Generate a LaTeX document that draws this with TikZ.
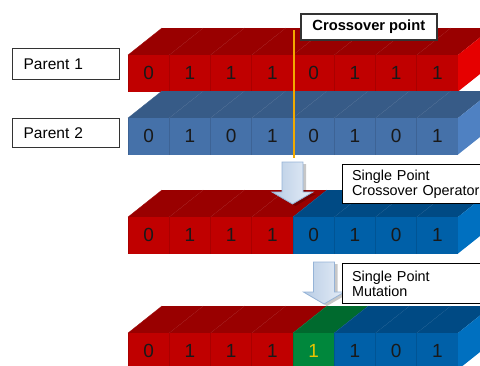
\documentclass[tikz,border=0pt]{standalone}
\usepackage{fontspec}
\setmainfont{Liberation Sans}
\usetikzlibrary{positioning}
\definecolor{RedF}{HTML}{C00000}
\definecolor{RedT}{HTML}{990000}
\definecolor{RedS}{HTML}{E60000}
\definecolor{PblF}{HTML}{4571A9}
\definecolor{PblT}{HTML}{375B87}
\definecolor{PblS}{HTML}{4F81C2}
\definecolor{OblF}{HTML}{0060A8}
\definecolor{OblT}{HTML}{004A84}
\definecolor{OblS}{HTML}{0070C0}
\definecolor{GrnF}{HTML}{00873C}
\definecolor{GrnT}{HTML}{006A2E}
\definecolor{Mark}{HTML}{F2A900}
\definecolor{Gold}{HTML}{E8C400}
\definecolor{ArrowL}{HTML}{B8CCE4}
\definecolor{ArrowR}{HTML}{E6EEF8}
\definecolor{ArrowLine}{HTML}{95B3D7}

% one chromosome: top y, row name, colour of right side, list bit/colour
\newcommand{\chromosome}[4]{%
  \foreach \bitv/\hue [count=\i from 0] in {#4} {
    \pgfmathsetmacro{\xl}{128+41.25*\i}
    \fill[fill=\hue T] (\xl,#1) -- ++(34,-27) -- ++(41.25,0) -- ++(-34,27) -- cycle;
    \draw[draw=\hue T!93!white, line width=0.4pt] (\xl,#1) -- ++(34,-27);
    \fill[fill=\hue F] (\xl,#1) rectangle ++(41.25,36.5);
    \draw[draw=\hue F!88!black, line width=0.6pt] (\xl,#1) -- ++(0,36.5);
    \node[digit] (#2-\i) at (\xl+20.6,#1+18.3) {\bitv};
  }
  \fill[fill=#3S] (458,#1) -- ++(34,-27) -- ++(0,36.5) -- ++(-34,27) -- cycle;
}
% block arrow pointing down: centre x, top y
\newcommand{\blockarrow}[2]{%
  \fill[black, opacity=0.22, xshift=3pt, yshift=-2pt]
    (#1-10.5,#2) -- (#1+10.5,#2) -- (#1+10.5,#2+30) -- (#1+20.5,#2+30)
    -- (#1,#2+42) -- (#1-20.5,#2+30) -- (#1-10.5,#2+30) -- cycle;
  \draw[blockarr]
    (#1-10.5,#2) -- (#1+10.5,#2) -- (#1+10.5,#2+30) -- (#1+20.5,#2+30)
    -- (#1,#2+42) -- (#1-20.5,#2+30) -- (#1-10.5,#2+30) -- cycle;
}

\begin{document}
\begin{tikzpicture}[x=1pt, y=-1pt,
    digit/.style={font=\fontsize{19}{20}\selectfont, text=black!90, inner sep=0pt},
    lbl/.style={draw=black!80, line width=1.3pt, fill=white, inner ysep=0pt,
                font=\fontsize{15.5}{18}\selectfont},
    note/.style={draw=black, line width=1.2pt, fill=white, inner ysep=0pt, inner xsep=9.5pt,
                 text width=160pt, align=left, minimum height=39pt,
                 font=\fontsize{14.4}{15}\selectfont},
    cutline/.style={Mark, line width=1.3pt},
    blockarr/.style={left color=ArrowL, right color=ArrowR, draw=ArrowLine, line width=0.8pt}]

  \useasboundingbox (0,0) rectangle (480,365);
  \clip (0,0) rectangle (480,365);

  % parents
  \chromosome{55}{pa}{Red}{0/Red,1/Red,1/Red,1/Red,0/Red,1/Red,1/Red,1/Red}
  \chromosome{118}{pb}{Pbl}{0/Pbl,1/Pbl,0/Pbl,1/Pbl,0/Pbl,1/Pbl,0/Pbl,1/Pbl}

  \node[lbl, anchor=north west, inner xsep=11pt, text width=85pt, align=left,
        minimum height=31pt] (par1) at (12,48) {Parent 1};
  \node[lbl, anchor=north west, inner xsep=11pt, text width=85pt, align=left,
        minimum height=29pt] (par2) at (12,118) {Parent 2};

  % crossover point
  \coordinate (cut top) at (294,30);
  \coordinate (cut bot) at (294,158);
  \draw[cutline] (cut top) -- (cut bot);
  \node[lbl, anchor=north west, line width=1.6pt, minimum width=136pt, minimum height=26pt,
        font=\bfseries\fontsize{14.7}{16}\selectfont] (xpt) at (300,13) {Crossover point};

  % offspring after crossover
  \chromosome{217}{ch}{Obl}{0/Red,1/Red,1/Red,1/Red,0/Obl,1/Obl,0/Obl,1/Obl}
  \blockarrow{292.5}{162}
  \node[note, anchor=north west] (xop) at (342,164) {Single Point\\Crossover Operator};

  % offspring after mutation
  \chromosome{333}{mu}{Obl}{0/Red,1/Red,1/Red,1/Red,{\color{Gold}1}/Grn,1/Obl,0/Obl,1/Obl}
  \blockarrow{324}{262}
  \node[note, anchor=north west, minimum height=40pt] (mop) at (342,263) {Single Point\\Mutation};
\end{tikzpicture}
\end{document}
